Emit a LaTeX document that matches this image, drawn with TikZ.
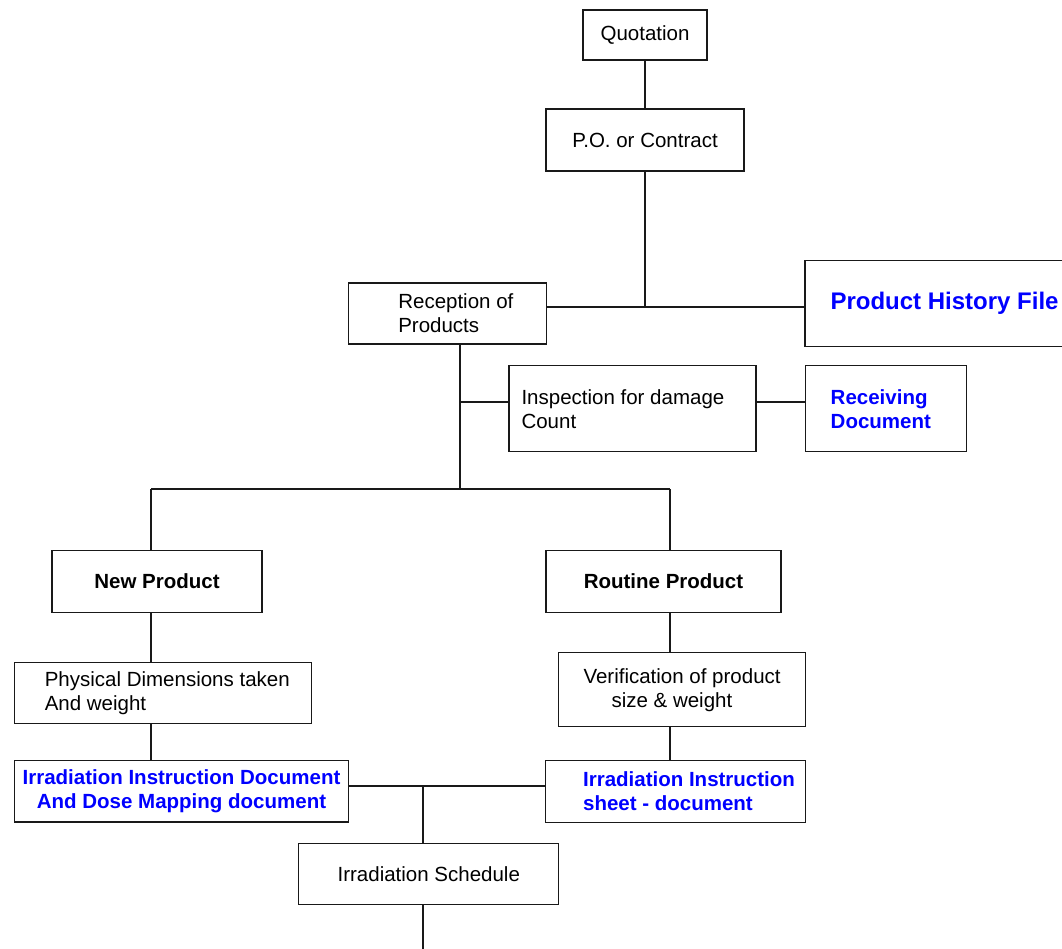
\documentclass[tikz,border=0pt]{standalone}
\usepackage{fontspec}
\setmainfont{Liberation Sans}
\definecolor{B}{RGB}{0, 0, 255}
\definecolor{N}{RGB}{25, 25, 25}
\newcommand{\nf}{\fontsize{20.5pt}{24pt}\selectfont}

\begin{document}
\begin{tikzpicture}[x=1pt, y=-1pt,
    box/.style={draw=N, line width=1.3pt, rectangle, inner sep=0pt, font=\nf},
    cbox/.style 2 args={box, minimum width=#1pt, minimum height=#2pt, align=center},
    lbox/.style n args={3}{box, text width=#1pt, minimum height=#2pt, align=flush left,
        execute at begin node={\leftskip=#3pt}},
    doc/.style={text=B, font=\nf\bfseries},
    con/.style={draw=N, line width=1.3pt}]
   	\useasboundingbox (0,0) rectangle (1062,949);
   	\clip (0,0) rectangle (1062,949);

	%Columnas y cruces de las lineas
   	\coordinate (lcol) at (151,0);
   	\coordinate (rcol) at (670,0);
   	\coordinate (mcol) at (460,0);
   	\coordinate (scol) at (423,0);
   	\coordinate (ha) at (645,307);
   	\coordinate (hb) at (0,489);
   	\coordinate (hc) at (0,402);
   	\coordinate (hd) at (0,786);
   	\coordinate (fin) at (423,949);

	%Parte superior
   	\node[cbox={124}{50}] (quot) at (645,35) {Quotation};
   	\node[cbox={198}{62}] (po) at (645,140) {P.O. or Contract};
   	\node[lbox={198}{61}{50}] (recep) at (447.3,313.6) {Reception of\\Products};
   	\node[lbox={285}{86}{25.5}, doc, font=\fontsize{24pt}{28pt}\selectfont\bfseries] (phf) at (947.5,303.5) {Product History File};
   	\node[lbox={247}{86}{12.5}] (insp) at (632.5,408.7) {Inspection for damage\\Count};
   	\node[lbox={161}{86}{25.5}, doc] (recv) at (885.7,408.7) {Receiving\\Document};

	%Las dos ramas
   	\node[cbox={210}{61.5}, font=\nf\bfseries] (newp) at (157,581.5) {New Product};
   	\node[cbox={235}{61.5}, font=\nf\bfseries] (routp) at (663.5,581.5) {Routine Product};
   	\node[lbox={297}{61}{30.3}] (phys) at (163,692.7) {Physical Dimensions taken\\And weight};
   	\node[lbox={247}{74}{25}] (verif) at (682,689.7) {Verification of product\\\hspace*{28pt}size \& weight};
   	\node[cbox={334}{61.5}, doc] (irrdoc) at (181.5,791.3) {Irradiation Instruction Document\\And Dose Mapping document};
   	\node[lbox={260}{62}{37.3}, doc] (irrsheet) at (675.8,791.2) {Irradiation Instruction\\sheet - document};
   	\node[cbox={260}{61.5}] (sched) at (428.8,874) {Irradiation Schedule};

	%Lineas de arriba
   	\draw[con] (quot.south) -- (po.north);
   	\draw[con] (po.south) -- (ha);
   	\draw[con] (recep.east |- ha) -- (phf.west |- ha);
   	\draw[con] (recep.south -| mcol) -- (mcol |- hb);
   	\draw[con] (mcol |- hc) -- (insp.west |- hc);
   	\draw[con] (insp.east |- hc) -- (recv.west |- hc);

	%Lineas de las ramas
   	\draw[con] (lcol |- hb) -- (rcol |- hb);
   	\draw[con] (lcol |- hb) -- (newp.north -| lcol);
   	\draw[con] (rcol |- hb) -- (routp.north -| rcol);
   	\draw[con] (newp.south -| lcol) -- (phys.north -| lcol);
   	\draw[con] (phys.south -| lcol) -- (irrdoc.north -| lcol);
   	\draw[con] (routp.south -| rcol) -- (verif.north -| rcol);
   	\draw[con] (verif.south -| rcol) -- (irrsheet.north -| rcol);

	%Union hacia el programa
   	\draw[con] (irrdoc.east |- hd) -- (irrsheet.west |- hd);
   	\draw[con] (scol |- hd) -- (sched.north -| scol);
   	\draw[con] (sched.south -| scol) -- (fin);
\end{tikzpicture}
\end{document}
